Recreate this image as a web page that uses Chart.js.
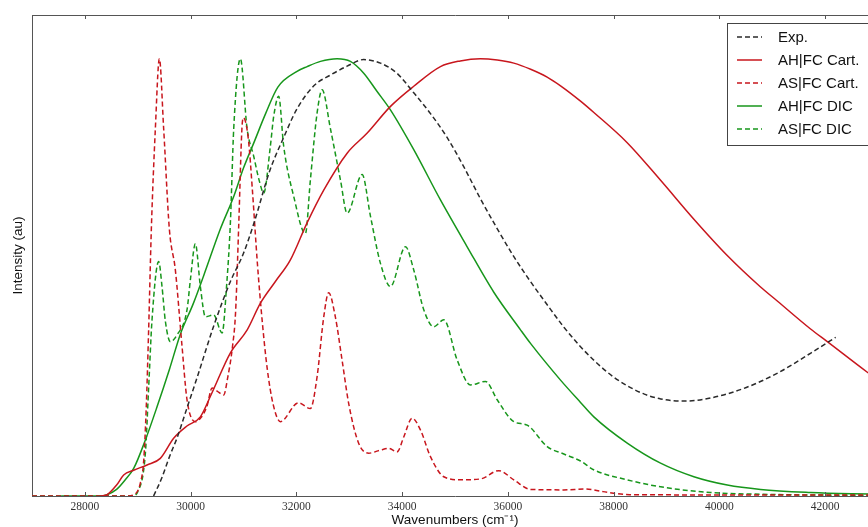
<!DOCTYPE html>
<html>
<head>
<meta charset="utf-8">
<title>Spectra</title>
<script src="https://cdn.jsdelivr.net/npm/chart.js@4.4.1/dist/chart.umd.min.js"></script>
<style>
  html, body { margin: 0; padding: 0; background: #fff; overflow: hidden; }
  #wrap { width: 868px; height: 527px; overflow: hidden; }
</style>
</head>
<body>
<div id="wrap"><canvas id="c" width="890" height="527"></canvas></div>
<script>
// wavenumber ticks (cm-1)
const xTicks = [28000, 30000, 32000, 34000, 36000, 38000, 40000, 42000];

// Exp.
const expWn = [29300, 29450, 29600, 29750, 29900, 30120, 30440, 30750, 31000, 31200, 31500, 31760, 32010, 32330, 32650, 32960, 33270, 33590, 33900, 34220, 34540, 34850, 35170, 35480, 35800, 36110, 36430, 36740, 37060, 37370, 37630, 38000, 38260, 38580, 38890, 39330, 39830, 40460, 41100, 41730, 42200];
const expInt = [0.0, 0.04, 0.09, 0.135, 0.19, 0.27, 0.39, 0.49, 0.555, 0.625, 0.745, 0.82, 0.885, 0.938, 0.963, 0.983, 0.998, 0.99, 0.967, 0.922, 0.874, 0.82, 0.752, 0.68, 0.611, 0.548, 0.49, 0.438, 0.386, 0.342, 0.31, 0.272, 0.252, 0.233, 0.222, 0.217, 0.224, 0.246, 0.281, 0.327, 0.363];

// AH|FC Cart.
const ahCartWn = [28300, 28420, 28600, 28734, 28923, 29176, 29427, 29679, 29930, 30184, 30400, 30750, 31070, 31320, 31600, 31887, 32200, 32520, 32960, 33340, 33780, 34220, 34725, 35100, 35480, 35800, 36112, 36430, 36743, 36996, 37374, 37626, 38257, 38888, 39518, 40149, 40779, 41095, 41725, 42041, 42798, 43000];
const ahCartInt = [0, 0.003, 0.025, 0.048, 0.059, 0.071, 0.086, 0.132, 0.16, 0.181, 0.235, 0.327, 0.38, 0.441, 0.49, 0.54, 0.624, 0.70, 0.784, 0.83, 0.891, 0.937, 0.982, 0.995, 1.0, 0.997, 0.99, 0.976, 0.958, 0.938, 0.903, 0.877, 0.808, 0.722, 0.633, 0.55, 0.478, 0.446, 0.382, 0.353, 0.283, 0.265];

// AS|FC Cart.
const asCartWn = [27000, 28800, 28956, 29050, 29112, 29160, 29206, 29257, 29333, 29409, 29490, 29598, 29711, 29832, 29932, 30090, 30200, 30306, 30406, 30500, 30625, 30700, 30790, 30850, 30910, 30970, 31000, 31093, 31168, 31262, 31357, 31450, 31560, 31697, 32038, 32265, 32391, 32517, 32611, 32738, 32864, 32990, 33180, 33369, 33590, 33747, 33905, 34031, 34189, 34347, 34536, 34788, 35103, 35482, 35829, 36112, 36428, 37058, 37467, 37800, 38300, 43000];
const asCartInt = [0, 0, 0.005, 0.03, 0.08, 0.2, 0.38, 0.61, 0.84, 1.0, 0.84, 0.61, 0.517, 0.35, 0.22, 0.17, 0.18, 0.204, 0.247, 0.24, 0.231, 0.27, 0.34, 0.42, 0.62, 0.84, 0.865, 0.815, 0.70, 0.533, 0.396, 0.29, 0.21, 0.17, 0.213, 0.200, 0.272, 0.409, 0.465, 0.409, 0.311, 0.211, 0.12, 0.098, 0.105, 0.109, 0.101, 0.135, 0.178, 0.151, 0.09, 0.044, 0.037, 0.039, 0.058, 0.037, 0.015, 0.014, 0.016, 0.01, 0.003, 0.002];

// AH|FC DIC
const ahDicWn = [27550, 28300, 28420, 28600, 28750, 28923, 29144, 29365, 29600, 29806, 30050, 30250, 30560, 30815, 31000, 31193, 31420, 31650, 32013, 32203, 32455, 32770, 33022, 33274, 33527, 33779, 34220, 34725, 35230, 35734, 36239, 36428, 36996, 37374, 37626, 38257, 38888, 39518, 40149, 40779, 41725, 42500, 43000];
const ahDicInt = [0, 0, 0.003, 0.015, 0.035, 0.063, 0.128, 0.204, 0.29, 0.37, 0.44, 0.505, 0.61, 0.685, 0.75, 0.807, 0.875, 0.935, 0.971, 0.982, 0.994, 1.0, 0.994, 0.967, 0.925, 0.883, 0.792, 0.677, 0.57, 0.466, 0.38, 0.349, 0.265, 0.214, 0.181, 0.121, 0.075, 0.044, 0.025, 0.015, 0.008, 0.005, 0.004];

// AS|FC DIC
const asDicWn = [27000, 28900, 29000, 29144, 29207, 29270, 29396, 29459, 29522, 29617, 29741, 29932, 29995, 30090, 30184, 30279, 30436, 30595, 30684, 30752, 30815, 30941, 31068, 31193, 31300, 31382, 31508, 31571, 31666, 31760, 31950, 32171, 32265, 32392, 32487, 32644, 32833, 32960, 33244, 33401, 33590, 33779, 34063, 34220, 34409, 34598, 34788, 35041, 35293, 35577, 35798, 36112, 36365, 36743, 37058, 37374, 37621, 38257, 38888, 39833, 40779, 43000];
const asDicInt = [0, 0, 0.01, 0.098, 0.25, 0.403, 0.536, 0.479, 0.40, 0.353, 0.368, 0.426, 0.494, 0.577, 0.479, 0.41, 0.414, 0.373, 0.487, 0.625, 0.84, 1.0, 0.84, 0.777, 0.72, 0.693, 0.80, 0.868, 0.914, 0.80, 0.685, 0.60, 0.723, 0.876, 0.929, 0.84, 0.723, 0.647, 0.735, 0.64, 0.532, 0.479, 0.57, 0.517, 0.426, 0.387, 0.403, 0.311, 0.254, 0.262, 0.22, 0.17, 0.162, 0.113, 0.096, 0.08, 0.06, 0.037, 0.021, 0.008, 0.004, 0.001];

const RED = '#c8161d';
const GREEN = '#17961b';
const DARK = '#2a2a2a';
const DASH = [5, 3];

const pts = (xs, ys) => xs.map((x, i) => ({ x: x, y: ys[i] }));

function series(label, xs, ys, color, dashed) {
  return {
    label: label,
    data: pts(xs, ys),
    borderColor: color,
    borderWidth: 1.5,
    borderDash: dashed ? DASH : [],
    pointRadius: 0,
    fill: false,
    cubicInterpolationMode: 'monotone'
  };
}

// boxed legend in the upper right, drawn from the dataset styles
const boxLegend = {
  id: 'boxLegend',
  afterDraw(chart) {
    const ctx = chart.ctx;
    const x0 = 727, y0 = 23, w = 160, h = 122, row = 23;
    ctx.save();
    ctx.fillStyle = '#fff';
    ctx.fillRect(x0, y0, w, h);
    ctx.strokeStyle = '#444';
    ctx.lineWidth = 1;
    ctx.strokeRect(x0 + 0.5, y0 + 0.5, w, h);
    ctx.font = '15px "Liberation Sans", Arial, sans-serif';
    ctx.textBaseline = 'middle';
    chart.data.datasets.forEach((ds, i) => {
      const y = y0 + 14 + i * row;
      ctx.strokeStyle = ds.borderColor;
      ctx.lineWidth = 1.5;
      ctx.setLineDash(ds.borderDash);
      ctx.beginPath();
      ctx.moveTo(737, y);
      ctx.lineTo(762, y);
      ctx.stroke();
      ctx.setLineDash([]);
      ctx.fillStyle = '#111';
      ctx.fillText(ds.label, 778, y + 1);
    });
    ctx.restore();
  }
};

// short inward tick marks on the top and bottom frame
const innerTicks = {
  id: 'innerTicks',
  afterDatasetsDraw(chart) {
    const ctx = chart.ctx;
    const x = chart.scales.x;
    const a = chart.chartArea;
    ctx.save();
    ctx.strokeStyle = '#555';
    ctx.lineWidth = 1;
    xTicks.forEach(v => {
      const px = Math.round(x.getPixelForValue(v)) + 0.5;
      ctx.beginPath();
      ctx.moveTo(px, a.top);
      ctx.lineTo(px, a.top + 4);
      ctx.moveTo(px, a.bottom);
      ctx.lineTo(px, a.bottom - 4);
      ctx.stroke();
    });
    ctx.restore();
  }
};

new Chart(document.getElementById('c'), {
  type: 'line',
  data: {
    datasets: [
      series('Exp.', expWn, expInt, DARK, true),
      series('AH|FC Cart.', ahCartWn, ahCartInt, RED, false),
      series('AS|FC Cart.', asCartWn, asCartInt, RED, true),
      series('AH|FC DIC', ahDicWn, ahDicInt, GREEN, false),
      series('AS|FC DIC', asDicWn, asDicInt, GREEN, true)
    ]
  },
  options: {
    responsive: false,
    animation: false,
    layout: { padding: { top: 15, right: 12, left: 0, bottom: 0 } },
    plugins: { legend: { display: false }, tooltip: { enabled: false } },
    scales: {
      x: {
        type: 'linear',
        position: 'bottom',
        min: 27000,
        max: 43000,
        afterBuildTicks: s => { s.ticks = xTicks.map(v => ({ value: v })); },
        afterFit: s => { s.height = 31; },
        grid: { display: false, drawTicks: false },
        border: { display: true, color: '#555', width: 1 },
        ticks: {
          padding: 4,
          color: '#333',
          maxRotation: 0,
          font: { family: '"Liberation Serif", "DejaVu Serif", serif', size: 11.5 },
          callback: v => String(v)
        },
        title: {
          display: true,
          text: 'Wavenumbers (cm⁻¹)',
          color: '#111',
          padding: 0,
          font: { family: '"Liberation Sans", Arial, sans-serif', size: 13.5, lineHeight: 1 }
        }
      },
      x2: {
        type: 'linear',
        position: 'top',
        min: 27000,
        max: 43000,
        afterFit: s => { s.height = 0; },
        grid: { display: false, drawTicks: false },
        border: { display: true, color: '#555', width: 1 },
        ticks: { display: false }
      },
      y: {
        min: 0,
        max: 1.1,
        afterFit: s => { s.width = 32; },
        grid: { display: false, drawTicks: false },
        border: { display: true, color: '#555', width: 1 },
        ticks: { display: false },
        title: {
          display: true,
          text: 'Intensity (au)',
          color: '#111',
          padding: { top: 12, bottom: 0 },
          font: { family: '"Liberation Sans", Arial, sans-serif', size: 13.5, lineHeight: 1 }
        }
      }
    }
  },
  plugins: [innerTicks, boxLegend]
});
</script>
</body>
</html>
